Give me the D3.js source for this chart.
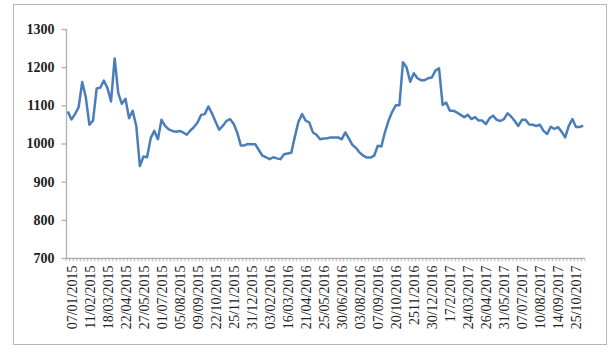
<!DOCTYPE html>
<html>
<head>
<meta charset="utf-8">
<script src="https://cdn.jsdelivr.net/npm/d3@7"></script>
<style>
  html, body { margin: 0; padding: 0; background: #fff; }
</style>
</head>
<body>
<div id="chart"></div>
<script>
// Data -----------------------------------------------------------------------------------------------------------
const tickLabels = [
  "07/01/2015", "11/02/2015", "18/03/2015", "22/04/2015", "27/05/2015", "01/07/2015", "05/08/2015",
  "09/09/2015", "22/10/2015", "25/11/2015", "31/12/2015", "03/02/2016", "16/03/2016", "21/04/2016",
  "25/05/2016", "30/06/2016", "03/08/2016", "07/09/2016", "20/10/2016", "2511/2016", "30/12/2016",
  "17/2/2017", "24/03/2017", "26/04/2017", "31/05/2017", "07/07/2017", "10/08/2017", "14/09/2017",
  "25/10/2017"
];
const labelEvery = 5;

const values = [
  1084, 1063, 1077, 1095, 1161, 1121, 1049, 1060, 1144, 1146,
  1165, 1145, 1110, 1223, 1132, 1104, 1117, 1066, 1086, 1046,
  941, 966, 964, 1014, 1033, 1011, 1062, 1046, 1037, 1033,
  1031, 1033, 1029, 1023, 1034, 1043, 1055, 1075, 1077, 1097,
  1079, 1057, 1036, 1046, 1059, 1064, 1052, 1029, 995, 995,
  999, 998, 998, 983, 968, 964, 959, 964, 961, 959,
  972, 974, 976, 1018, 1057, 1077, 1060, 1055, 1029, 1023,
  1011, 1013, 1014, 1016, 1016, 1016, 1011, 1029, 1013, 996,
  988, 976, 968, 963, 963, 968, 994, 992, 1030, 1060,
  1083, 1100, 1100, 1213, 1199, 1162, 1184, 1171, 1166, 1166,
  1171, 1173, 1191, 1197, 1101, 1107, 1086, 1086, 1081, 1075,
  1069, 1075, 1064, 1069, 1060, 1060, 1051, 1066, 1073, 1062,
  1059, 1064, 1079, 1071, 1059, 1046, 1062, 1062, 1050, 1049,
  1046, 1049, 1033, 1025, 1044, 1038, 1043, 1031, 1016, 1046,
  1064, 1043, 1043, 1047
];
const yTicks = [700, 800, 900, 1000, 1100, 1200, 1300];

// Canvas ---------------------------------------------------------------------------------------------------------
const canvasWidth = 610;
const canvasHeight = 352;

const plotLeft = 66;
const plotRight = 585;
const plotTop = 29;
const plotBottom = 258;

const svg = d3.select("#chart")
  .append("svg")
  .attr("width", canvasWidth)
  .attr("height", canvasHeight);

// outer frame
svg.append("rect")
  .attr("x", 13.5)
  .attr("y", 4.5)
  .attr("width", 593)
  .attr("height", 340)
  .style("fill", "none")
  .style("stroke", "#b8b8b8")
  .style("stroke-width", 1);

// Scales ---------------------------------------------------------------------------------------------------------
const xScale = d3.scaleBand()
  .domain(d3.range(values.length))
  .range([plotLeft, plotRight]);

const yScale = d3.scaleLinear()
  .domain([700, 1300])
  .range([plotBottom, plotTop]);

const axisColor = "#b0b0b0";
const fontFamily = "'Liberation Serif', 'DejaVu Serif', serif";

// Y axis ---------------------------------------------------------------------------------------------------------
const yAxis = svg.append("g")
  .attr("transform", "translate(" + (plotLeft + 0.5) + ",0)")
  .call(d3.axisLeft(yScale).tickValues(yTicks).tickSize(5).tickPadding(7).tickFormat(d3.format("d")));
yAxis.selectAll("path, line")
  .style("stroke", axisColor)
  .style("stroke-width", 1.3);
yAxis.select("path").attr("d", "M0," + plotTop + "V" + plotBottom);
yAxis.selectAll("text")
  .style("font-family", fontFamily)
  .style("font-weight", "bold")
  .style("font-size", "14px")
  .style("fill", "#222");

// X axis ---------------------------------------------------------------------------------------------------------
const xAxis = svg.append("g")
  .attr("transform", "translate(0," + (plotBottom + 0.5) + ")");

xAxis.append("line")
  .attr("x1", plotLeft)
  .attr("x2", plotRight)
  .style("stroke", axisColor)
  .style("stroke-width", 1.3);

// tick marks sit on the category boundaries
xAxis.selectAll(".tick-mark")
  .data(d3.range(values.length + 1))
  .join("line")
  .attr("class", "tick-mark")
  .attr("x1", d => (d < values.length ? xScale(d) : plotRight))
  .attr("x2", d => (d < values.length ? xScale(d) : plotRight))
  .attr("y1", 0)
  .attr("y2", 3)
  .style("stroke", axisColor)
  .style("stroke-width", 0.8);

xAxis.selectAll(".tick-label")
  .data(tickLabels)
  .join("text")
  .attr("class", "tick-label")
  .attr("transform", (d, i) => {
    const cx = xScale(i * labelEvery) + xScale.bandwidth() / 2 + 9;
    return "translate(" + cx + ",7) rotate(-90)";
  })
  .text(d => d)
  .style("text-anchor", "end")
  .style("font-family", fontFamily)
  .style("font-size", "14px")
  .style("fill", "#222");

// Line -----------------------------------------------------------------------------------------------------------
const line = d3.line()
  .x((d, i) => xScale(i) + xScale.bandwidth() / 2)
  .y(d => yScale(d));

svg.append("path")
  .datum(values)
  .attr("d", line)
  .style("fill", "none")
  .style("stroke", "#4a7ebb")
  .style("stroke-width", 2.5)
  .style("stroke-linejoin", "round");
</script>
</body>
</html>
